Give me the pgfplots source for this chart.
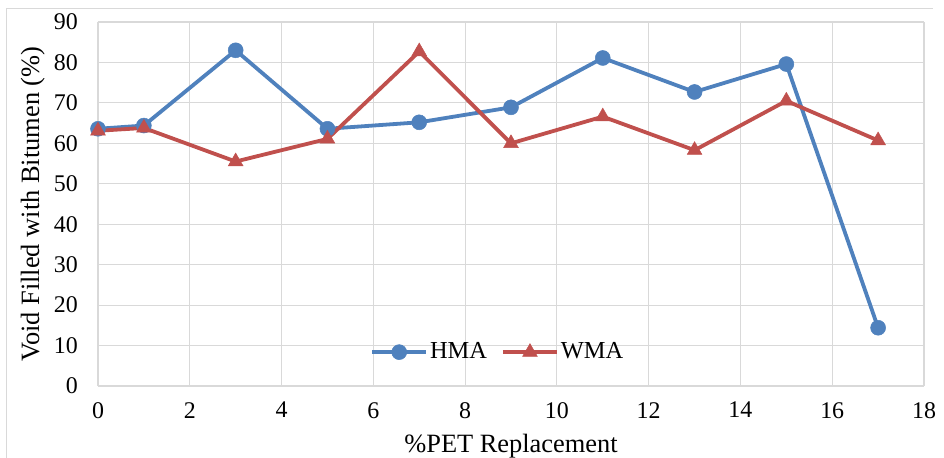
\documentclass[border=0pt]{standalone}
\usepackage{pgfplots}
\pgfplotsset{compat=1.18}
\usepackage{fontspec}
\setmainfont{Liberation Serif}
\definecolor{hma}{HTML}{4F81BD}
\definecolor{wma}{HTML}{C0504D}
\definecolor{grid}{HTML}{D9D9D9}
\begin{document}
\fontsize{24}{28}\selectfont
\begin{tikzpicture}
\begin{axis}[
  scale only axis,
  width=826bp, height=364bp,
  xmin=0, xmax=18, ymin=0, ymax=90,
  xtick={0,2,...,18}, ytick={0,10,...,90},
  grid=major,
  major grid style={draw=grid, line width=1.2bp},
  axis line style={draw=grid, line width=1.2bp},
  axis x line*=bottom, axis y line*=left,
  tick style={draw=none},
  /pgf/number format/assume math mode=true,
  ticklabel style={font=\fontsize{24}{28}\selectfont},
  yticklabel style={xshift=-12bp},
  xticklabel style={yshift=-8bp},
  label style={font=\fontsize{26.5}{30}\selectfont},
  xlabel={\%PET Replacement},
  ylabel={Void Filled with Bitumen (\%)},
  xlabel style={yshift=0bp},
  ylabel style={yshift=-7bp},
  legend style={at={(0.484,0.093)}, anchor=center, draw=none, fill=none,
    font=\fontsize{24.5}{28}\selectfont, legend columns=2,
    /tikz/every even column/.append style={column sep=12bp}},
  legend image code/.code={
    \draw[#1, mark repeat=2, mark phase=2] plot coordinates {(0bp,0bp) (27bp,0bp) (54bp,0bp)};},
]
\addplot[color=hma, line width=3.8bp, mark=*, mark size=7.5bp, mark options={fill=hma, draw=hma, line width=0.5bp}]
coordinates {(0,63.6) (1,64.4) (3,83.0) (5,63.6) (7,65.2) (9,68.9) (11,81.1) (13,72.7) (15,79.6) (17,14.4)};
\addlegendentry{HMA}
\addplot[color=wma, line width=3.8bp, mark=triangle*, mark size=8.5bp, mark options={fill=wma, draw=wma, line width=0.5bp}]
coordinates {(0,63.1) (1,63.8) (3,55.5) (5,61.1) (7,82.7) (9,60.0) (11,66.6) (13,58.3) (15,70.5) (17,60.7)};
\addlegendentry{WMA}
\end{axis}
\draw[grid, line width=1bp] (-91bp,-90bp) -- (-91bp,377bp) -- (835bp,377bp);
\pgfresetboundingbox
\path[use as bounding box] (-98bp,-72bp) rectangle (846bp,386bp);
\end{tikzpicture}
\end{document}
